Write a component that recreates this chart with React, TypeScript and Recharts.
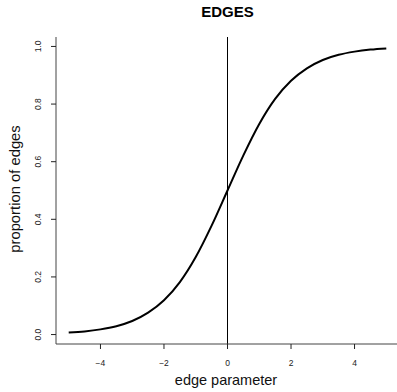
import React from 'react';
import { LineChart, Line, XAxis, YAxis, ReferenceLine } from 'recharts';

// edge parameter values (x) and proportion of edges (y)
const edgeParam = [-5, -4.5, -4, -3.5, -3, -2.5, -2, -1.5, -1, -0.5, 0, 0.5, 1, 1.5, 2, 2.5, 3, 3.5, 4, 4.5, 5];
const proportion = [0.007, 0.011, 0.018, 0.029, 0.047, 0.076, 0.119, 0.182, 0.269, 0.378, 0.5, 0.622, 0.731, 0.818, 0.881, 0.924, 0.953, 0.971, 0.982, 0.989, 0.993];
const xTicks = [-4, -2, 0, 2, 4];
const yTicks = [0, 0.2, 0.4, 0.6, 0.8, 1.0];

const data = edgeParam.map((x, i) => ({ x, y: proportion[i] }));

const FONT = '"Liberation Sans", Arial, Helvetica, sans-serif';

const YTick = ({ x, y, payload }: any) => {
  const bx = x - 8;
  return (
    <text
      x={bx}
      y={y}
      transform={`rotate(-90, ${bx}, ${y})`}
      textAnchor="middle"
      fontSize={8.5}
      fontFamily={FONT}
      fill="#222"
    >
      {payload.value.toFixed(1)}
    </text>
  );
};

export default function App() {
  return (
    <div style={{ position: 'absolute', left: 0, top: 0, width: 397, height: 392, overflow: 'hidden', background: '#fff', fontFamily: FONT }}>
      <div style={{ position: 'absolute', left: 0, width: 455, top: 3, textAlign: 'center', fontWeight: 'bold', fontSize: 15, color: '#000' }}>
        EDGES
      </div>
      <div style={{ position: 'absolute', left: 0, width: 452, top: 372, textAlign: 'center', fontSize: 14.5, color: '#111' }}>
        edge parameter
      </div>
      <div
        style={{
          position: 'absolute',
          left: 15,
          top: 189,
          transform: 'translate(-50%, -50%) rotate(-90deg)',
          whiteSpace: 'nowrap',
          fontSize: 14.8,
          color: '#111',
        }}
      >
        proportion of edges
      </div>
      <LineChart width={399} height={392} data={data} margin={{ top: 37, right: 0, bottom: 0, left: 0 }}>
        <XAxis
          xAxisId="top"
          orientation="top"
          dataKey="x"
          type="number"
          domain={[-5.4, 5.4]}
          height={0}
          tick={false}
          tickLine={false}
          axisLine={{ stroke: '#444', strokeWidth: 1 }}
        />
        <XAxis
          dataKey="x"
          type="number"
          domain={[-5.4, 5.4]}
          ticks={xTicks}
          height={48}
          tickSize={5}
          tickMargin={11}
          tickLine={{ stroke: '#222' }}
          axisLine={{ stroke: '#444', strokeWidth: 1 }}
          tick={{ fontSize: 8.5, fill: '#222', fontFamily: FONT }}
          tickFormatter={(v: number) => String(v).replace('-', '\u2212')}
        />
        <YAxis
          type="number"
          domain={[-0.0328, 1.0328]}
          ticks={yTicks}
          width={56}
          tickSize={5}
          tickMargin={2}
          tickLine={{ stroke: '#222' }}
          axisLine={{ stroke: '#444', strokeWidth: 1 }}
          tick={<YTick />}
        />
        <ReferenceLine x={0} stroke="#000" strokeWidth={1} />
        <Line
          type="monotone"
          dataKey="y"
          stroke="#000"
          strokeWidth={2}
          dot={false}
          isAnimationActive={false}
        />
      </LineChart>
    </div>
  );
}
